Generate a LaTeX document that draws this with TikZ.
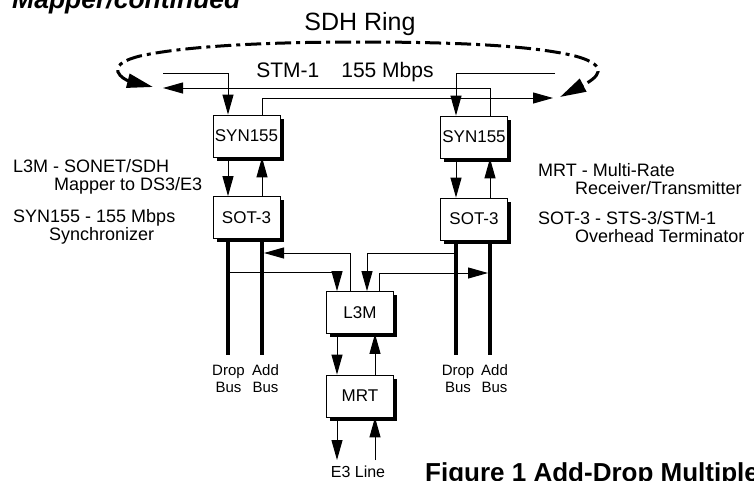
\documentclass[tikz,border=0pt]{standalone}
\usepackage{fontspec}
\setmainfont{Liberation Sans}
\usetikzlibrary{arrows.meta,shadows}

\tikzset{
  blk/.style={draw, fill=white, line width=0.8pt, minimum width=67pt, minimum height=42pt, inner sep=0pt,
    font=\fontsize{17}{19}\selectfont,
    drop shadow={shadow xshift=3.5pt, shadow yshift=-3.5pt, opacity=1, fill=black}},
  sig/.style={line width=1pt, -{Triangle[length=20pt,width=11pt]}},
  bus/.style={line width=4pt},
  ring/.style={line width=3pt, dash pattern=on 16pt off 5pt on 4pt off 5pt,
    {Triangle[length=26pt,width=14pt]}-{Triangle[length=26pt,width=14pt]}},
  note/.style={anchor=base west, inner sep=0pt, font=\fontsize{18}{20}\selectfont},
  buslbl/.style={anchor=base, align=center, inner sep=0pt, font=\fontsize{15}{17}\selectfont}
}

\begin{document}
\begin{tikzpicture}[x=1pt,y=-1pt]
\useasboundingbox (0,0) rectangle (754,480);

\node[anchor=base west, inner sep=0pt, font=\fontsize{26.5}{28}\selectfont\bfseries\itshape] (hdr) at (12,8) {Mapper/continued};
\node[anchor=base, inner sep=0pt, font=\fontsize{25}{28}\selectfont] (sdh) at (360,30) {SDH Ring};
\node[anchor=base, inner sep=0pt, font=\fontsize{21}{24}\selectfont] (stm) at (345,77) {STM-1\hspace{22pt}155 Mbps};

\coordinate (ringW) at (153,87);
\coordinate (ringE) at (560,97);
\draw[ring] (ringW) .. controls (125,80) and (100,66) .. (140,56) .. controls (190,45) and (280,42) .. (360,42)
  .. controls (450,42) and (530,45) .. (575,56) .. controls (612,66) and (597,78) .. (ringE);

\node[blk] (synL) at (246.5,136) {SYN155};
\node[blk] (sotL) at (246.5,217.5) {SOT-3};
\node[blk] (synR) at (474,137) {SYN155};
\node[blk] (sotR) at (474,219) {SOT-3};
\node[blk] (l3m) at (360,312.5) {L3M};
\node[blk] (mrt) at (360,396) {MRT};

\coordinate (dropL) at (228,355);
\coordinate (addL) at (262,355);
\coordinate (dropR) at (456,355);
\coordinate (addR) at (490,355);
\foreach \b/\s in {dropL/sotL, addL/sotL, dropR/sotR, addR/sotR}
    \draw[bus] (\s.south -| \b) -- (\b);

\coordinate (westIn) at (163,73);
\coordinate (westOut) at (163,88);
\coordinate (eastOut) at (553,98);
\coordinate (eastIn) at (555,73);
\draw[sig] (westIn) -| (synL.north -| dropL);
\draw[sig] (synR.north -| addR) |- (westOut);
\draw[sig] (synL.north -| addL) |- (eastOut);
\draw[sig] (eastIn) -| (synR.north -| dropR);

\foreach \u/\v/\d/\a in {synL/sotL/dropL/addL, synR/sotR/dropR/addR} {
    \draw[sig] (\u.south -| \d) -- (\v.north -| \d);
    \draw[sig] (\v.north -| \a) -- (\u.south -| \a);
}

\coordinate (l3mW) at (337,272);
\coordinate (l3mWo) at (350,253);
\coordinate (l3mE) at (367,253);
\coordinate (l3mEo) at (379,273);
\draw[sig] (dropL |- l3mW) -| (l3m.north -| l3mW);
\draw[sig, shorten >=2pt] (l3m.north -| l3mWo) |- (addL |- l3mWo);
\draw[sig] (dropR |- l3mE) -| (l3m.north -| l3mE);
\draw[sig, shorten >=2pt] (l3m.north -| l3mEo) |- (addR |- l3mEo);

\coordinate (e3out) at (337,460);
\coordinate (e3in) at (375,460);
\draw[sig] (l3m.south -| e3out) -- (mrt.north -| e3out);
\draw[sig] (mrt.north -| e3in) -- (l3m.south -| e3in);
\draw[sig] (mrt.south -| e3out) -- (e3out);
\draw[sig] (e3in) -- (mrt.south -| e3in);

\node[buslbl] (dropLlbl) at (228.5,392) {Drop\\Bus};
\node[buslbl] (addLlbl) at (265.5,392) {Add\\Bus};
\node[buslbl] (dropRlbl) at (458,392) {Drop\\Bus};
\node[buslbl] (addRlbl) at (494.5,392) {Add\\Bus};
\node[anchor=base, inner sep=0pt, font=\fontsize{16}{18}\selectfont] (e3) at (358,477) {E3 Line};

\node[note] (l3mNote) at (13,172) {L3M - SONET/SDH};
\node[note] (l3mNote2) at (54,190) {Mapper to DS3/E3};
\node[note] (synNote) at (13,222) {SYN155 - 155 Mbps};
\node[note] (synNote2) at (49,240) {Synchronizer};
\node[note] (mrtNote) at (538,176) {MRT - Multi-Rate};
\node[note] (mrtNote2) at (575,194) {Receiver/Transmitter};
\node[note] (sotNote) at (538,224) {SOT-3 - STS-3/STM-1};
\node[note] (sotNote2) at (575,242) {Overhead Terminator};

\node[anchor=base west, inner sep=0pt, font=\fontsize{26}{28}\selectfont\bfseries] (cap) at (425,481) {Figure 1 Add-Drop Multiple};
\end{tikzpicture}
\end{document}
